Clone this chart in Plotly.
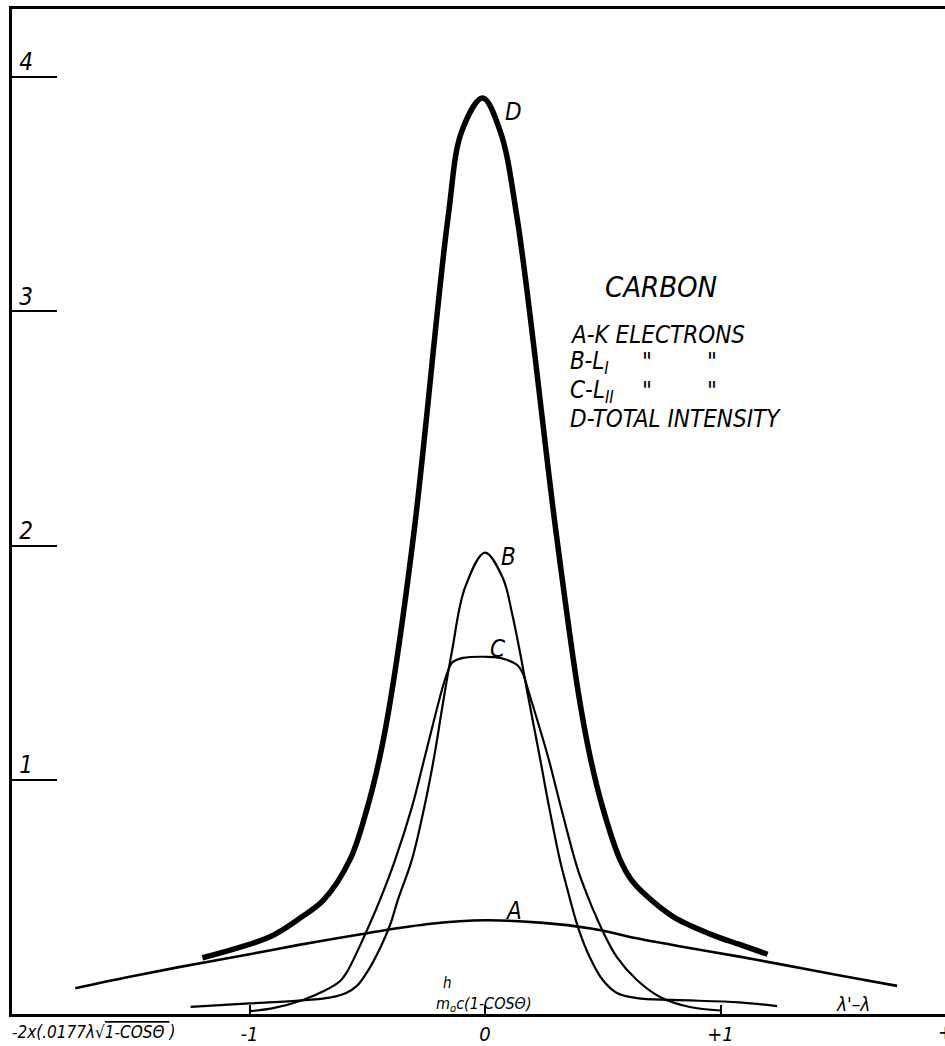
import plotly.graph_objects as go

# ---- data ----
x_A = [-1.74, -1.53, -1.30, -1.00, -0.79, -0.50, -0.23, 0.00, 0.233, 0.45, 0.66, 0.85, 1.08, 1.24, 1.53, 1.75]
y_A = [0.11, 0.155, 0.20, 0.255, 0.295, 0.345, 0.385, 0.40, 0.39, 0.365, 0.32, 0.285, 0.245, 0.215, 0.16, 0.12]

x_B = [-1.25, -1.00, -0.78, -0.66, -0.59, -0.544, -0.50, -0.446, -0.403, -0.37, -0.31, -0.25, -0.212, -0.183,
       -0.14, -0.085, 0.00, 0.076, 0.115, 0.157, 0.178, 0.234, 0.267, 0.318, 0.34, 0.395, 0.446, 0.50,
       0.56, 0.645, 0.80, 1.08, 1.24]
y_B = [0.03, 0.045, 0.058, 0.07, 0.09, 0.12, 0.18, 0.28, 0.38, 0.487, 0.66, 0.92, 1.12, 1.30,
       1.55, 1.82, 1.97, 1.86, 1.71, 1.50, 1.383, 1.09, 0.91, 0.657, 0.57, 0.37, 0.24, 0.145,
       0.09, 0.068, 0.06, 0.05, 0.034]

x_C = [-1.00, -0.90, -0.773, -0.68, -0.616, -0.586, -0.50, -0.446, -0.382, -0.31, -0.255, -0.183, -0.16,
       -0.14, -0.093, 0.00, 0.064, 0.136, 0.16, 0.183, 0.267, 0.318, 0.382, 0.41, 0.497, 0.56, 0.645,
       0.743, 0.87, 1.00]
y_C = [0.012, 0.025, 0.06, 0.10, 0.14, 0.18, 0.36, 0.487, 0.657, 0.884, 1.10, 1.383, 1.456,
       1.50, 1.52, 1.525, 1.52, 1.49, 1.456, 1.383, 1.10, 0.90, 0.657, 0.57, 0.36, 0.243, 0.145,
       0.073, 0.03, 0.015]

x_D = [-1.20, -0.913, -0.785, -0.685, -0.573, -0.50, -0.446, -0.395, -0.30, -0.157, -0.098, -0.01,
       0.064, 0.136, 0.30, 0.395, 0.446, 0.50, 0.573, 0.62, 0.68, 0.80, 0.96, 1.08, 1.20]
y_D = [0.24, 0.33, 0.41, 0.487, 0.66, 0.88, 1.10, 1.38, 2.07, 3.40, 3.77, 3.91,
       3.77, 3.40, 2.07, 1.38, 1.10, 0.88, 0.66, 0.575, 0.51, 0.415, 0.34, 0.297, 0.255]

curve_names = ["A", "B", "C", "D"]
label_x = [0.12, 0.10, 0.055, 0.12]
label_y = [0.44, 1.95, 1.56, 3.85]

x_tick_vals = [-1, 0, 1]
x_tick_text = ["-1", "0", "+1"]
y_tick_vals = [1, 2, 3, 4]
y_tick_text = ["1", "2", "3", "4"]

legend_title = "CARBON"
legend_lines = ["A-K ELECTRONS", "B-L<sub>I</sub>", "C-L<sub>II</sub>", "D-TOTAL INTENSITY"]

FONT = "Liberation Sans Narrow, DejaVu Sans Condensed, Liberation Sans, sans-serif"

fig = go.Figure()
for xs, ys, w in [(x_A, y_A, 2.6), (x_B, y_B, 2.2), (x_C, y_C, 2.2), (x_D, y_D, 5.5)]:
    fig.add_trace(go.Scatter(x=xs, y=ys, mode="lines",
                             line=dict(color="black", width=w, shape="spline", smoothing=1.0),
                             hoverinfo="skip", showlegend=False))

# plot area in page pixels
L, R, T, B = 12, 945, 9, 1014
X0 = 485.0      # pixel of x = 0
SX = 235.5      # pixels per x unit
SY = 234.25     # pixels per y unit

def px(X):
    return (X - L) / (R - L)
def py(Y):
    return (B - Y) / (B - T)

def ann(X, Y, text, size, xanchor="center", italic=True):
    f = dict(size=size, color="black", family=FONT)
    if italic:
        f["style"] = "italic"
    return dict(x=px(X), y=py(Y), xref="paper", yref="paper", text=text, showarrow=False,
                xanchor=xanchor, yanchor="middle", font=f)

anns = []
for n, lx, ly in zip(curve_names, label_x, label_y):
    anns.append(dict(x=lx, y=ly, text=n, showarrow=False, xref="x", yref="y",
                     xanchor="center", yanchor="middle",
                     font=dict(size=24, color="black", family=FONT, style="italic")))

anns.append(ann(661, 287, legend_title, 29))
leg_y = [335, 362, 391, 419]
for t, yy in zip(legend_lines, leg_y):
    anns.append(ann(568, yy, t, 24, xanchor="left"))
for yy in leg_y[1:3]:
    for xx in [647, 712]:
        anns.append(ann(xx, yy, "\"", 24, italic=False))

anns.append(ann(447, 983, "h", 15))
anns.append(ann(484, 1004, "m<sub>o</sub>c(1-COSΘ)", 16))
anns.append(ann(853, 1004, "λ'–λ", 19))
anns.append(ann(10, 1032, "-2x(.0177λ√<span style='text-decoration:overline'>1-COSΘ </span>)", 17, xanchor="left"))
anns.append(ann(936, 1032, "+2", 20, xanchor="left"))

fig.update_layout(
    width=945, height=1046,
    margin=dict(l=L, r=945 - R, t=T, b=1046 - B),
    paper_bgcolor="white", plot_bgcolor="white",
    annotations=anns,
    showlegend=False,
    xaxis=dict(range=[-(X0 - L) / SX, (R - X0) / SX], showgrid=False, zeroline=False,
               showline=True, linecolor="black", linewidth=3, mirror=True,
               tickmode="array", tickvals=x_tick_vals, ticktext=x_tick_text,
               ticks="inside", ticklen=9, tickwidth=1.5, tickcolor="black",
               tickfont=dict(size=20, color="black", family=FONT, style="italic")),
    yaxis=dict(range=[0, (B - T) / SY], showgrid=False, zeroline=False,
               showline=True, linecolor="black", linewidth=3, mirror=False,
               tickmode="array", tickvals=y_tick_vals, ticktext=y_tick_text,
               ticks="inside", ticklen=45, tickwidth=2, tickcolor="black",
               ticklabelposition="inside", ticklabelshift=-15, ticklabelstandoff=-36,
               tickfont=dict(size=24, color="black", family=FONT, style="italic")),
)

fig.write_html("out.html", config={"displayModeBar": False},
               post_script="document.body.style.margin='0';document.body.style.overflow='hidden';")
